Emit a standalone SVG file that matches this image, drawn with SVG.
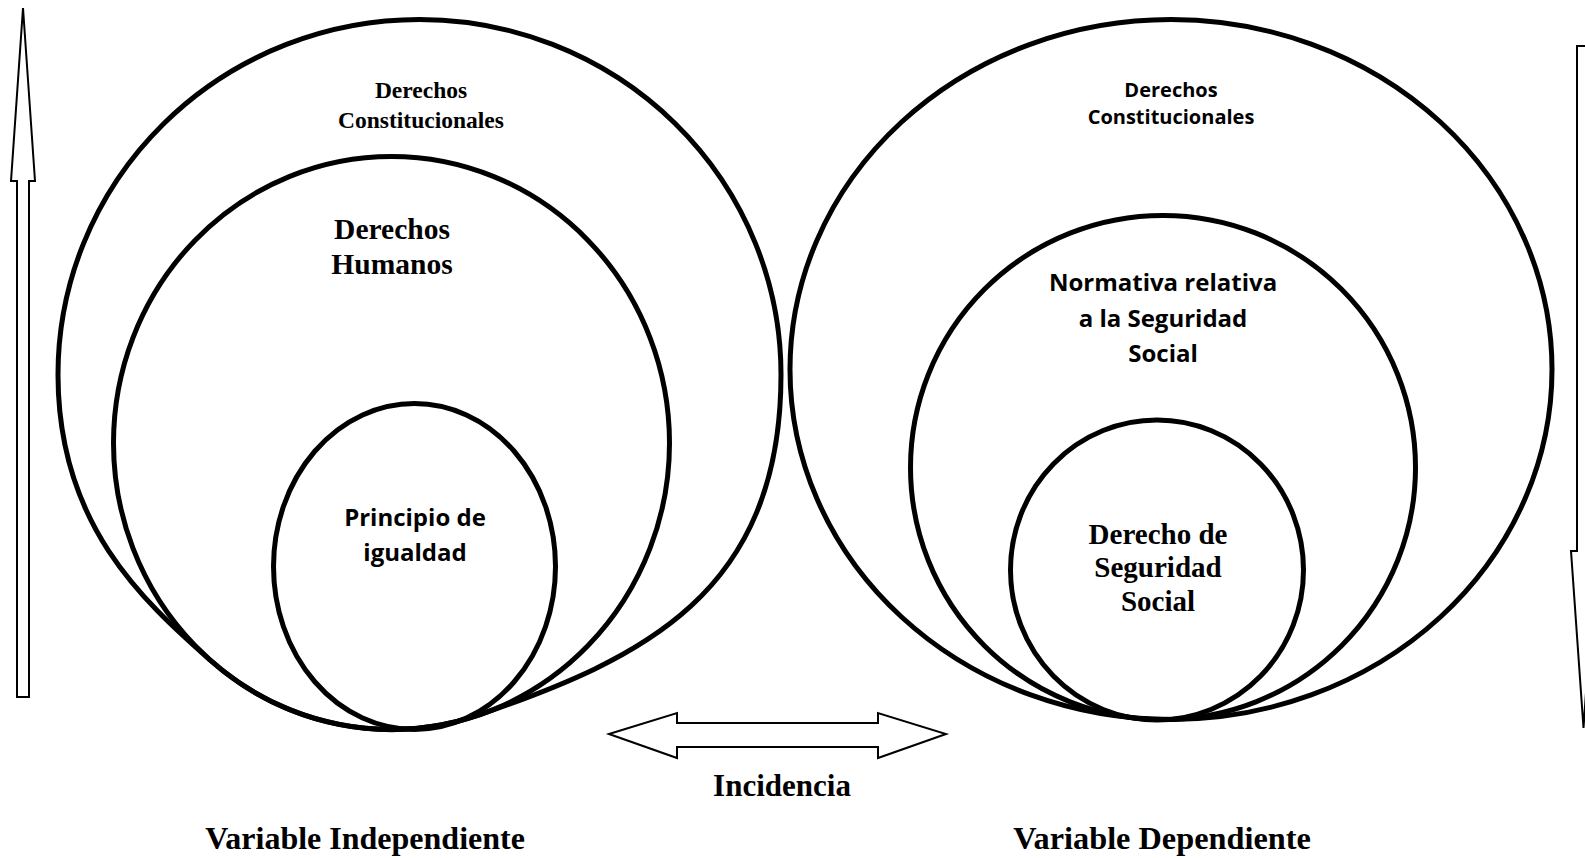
<svg xmlns="http://www.w3.org/2000/svg" width="1585" height="858" viewBox="0 0 1585 858">
<style>
.c{fill:none;stroke:#000;stroke-width:5}
.a{fill:#fff;stroke:#000;stroke-width:2;stroke-linejoin:miter}
.tn{font-family:"Liberation Serif","Times New Roman",serif;font-weight:bold;fill:#000;text-anchor:middle}
.cb{font-family:"Open Sans","Noto Sans",sans-serif;font-weight:bold;fill:#000;text-anchor:middle}
</style>
<rect width="1585" height="858" fill="#fff"/>
<g id="connectors">
<polygon class="a" points="23,8 35,181 29,181 29,697 17,697 17,181 11,181"/>
<polygon class="a" points="1577,46 1590,46 1590,551 1596,551 1583.5,728 1571,551 1577,551"/>
<polygon class="a" points="609,734 677,713 677,723 878,723 878,713 946,734 878,758 878,747 677,747 677,758"/>
</g>
<g id="left-constitucionales">
<path class="c" d="M58 374.5 A361.5 355 0 0 1 419.5 19.5 A361.5 355 0 0 1 781 374.5 C781 594.5 640.7 659 480 714.6 A278 286.5 0 0 1 210 660 C142.7 600.2 58 524.5 58 374.5 Z"/>
<text class="tn" font-size="23.5" x="421" y="98">Derechos</text>
<text class="tn" font-size="23.5" x="421" y="128">Constitucionales</text>
</g>
<g id="left-humanos">
<ellipse class="c" cx="391.5" cy="443" rx="278" ry="286.5"/>
<text class="tn" font-size="29.5" x="392" y="239">Derechos</text>
<text class="tn" font-size="29.5" x="392" y="274">Humanos</text>
</g>
<g id="left-igualdad">
<ellipse class="c" cx="414.5" cy="566.5" rx="141" ry="163"/>
<text class="cb" font-size="24" x="415" y="526">Principio de</text>
<text class="cb" font-size="24" x="415" y="561">igualdad</text>
</g>
<g id="right-constitucionales">
<ellipse class="c" cx="1171" cy="369.5" rx="381" ry="350"/>
<text class="cb" font-size="20" x="1171" y="97">Derechos</text>
<text class="cb" font-size="20" x="1171" y="124">Constitucionales</text>
</g>
<g id="right-normativa">
<ellipse class="c" cx="1163" cy="467.5" rx="252.5" ry="252"/>
<text class="cb" font-size="24" x="1163" y="291">Normativa relativa</text>
<text class="cb" font-size="24" x="1163" y="327">a la Seguridad</text>
<text class="cb" font-size="24" x="1163" y="362">Social</text>
</g>
<g id="right-derecho">
<ellipse class="c" cx="1157" cy="570" rx="146.5" ry="150"/>
<text class="tn" font-size="29" x="1158" y="544">Derecho de</text>
<text class="tn" font-size="29" x="1158" y="577">Seguridad</text>
<text class="tn" font-size="29" x="1158" y="611">Social</text>
</g>
<g id="labels">
<text class="tn" font-size="31" x="782" y="796">Incidencia</text>
<text class="tn" font-size="32" x="365" y="849">Variable Independiente</text>
<text class="tn" font-size="32.3" x="1162" y="849">Variable Dependiente</text>
</g>
</svg>
